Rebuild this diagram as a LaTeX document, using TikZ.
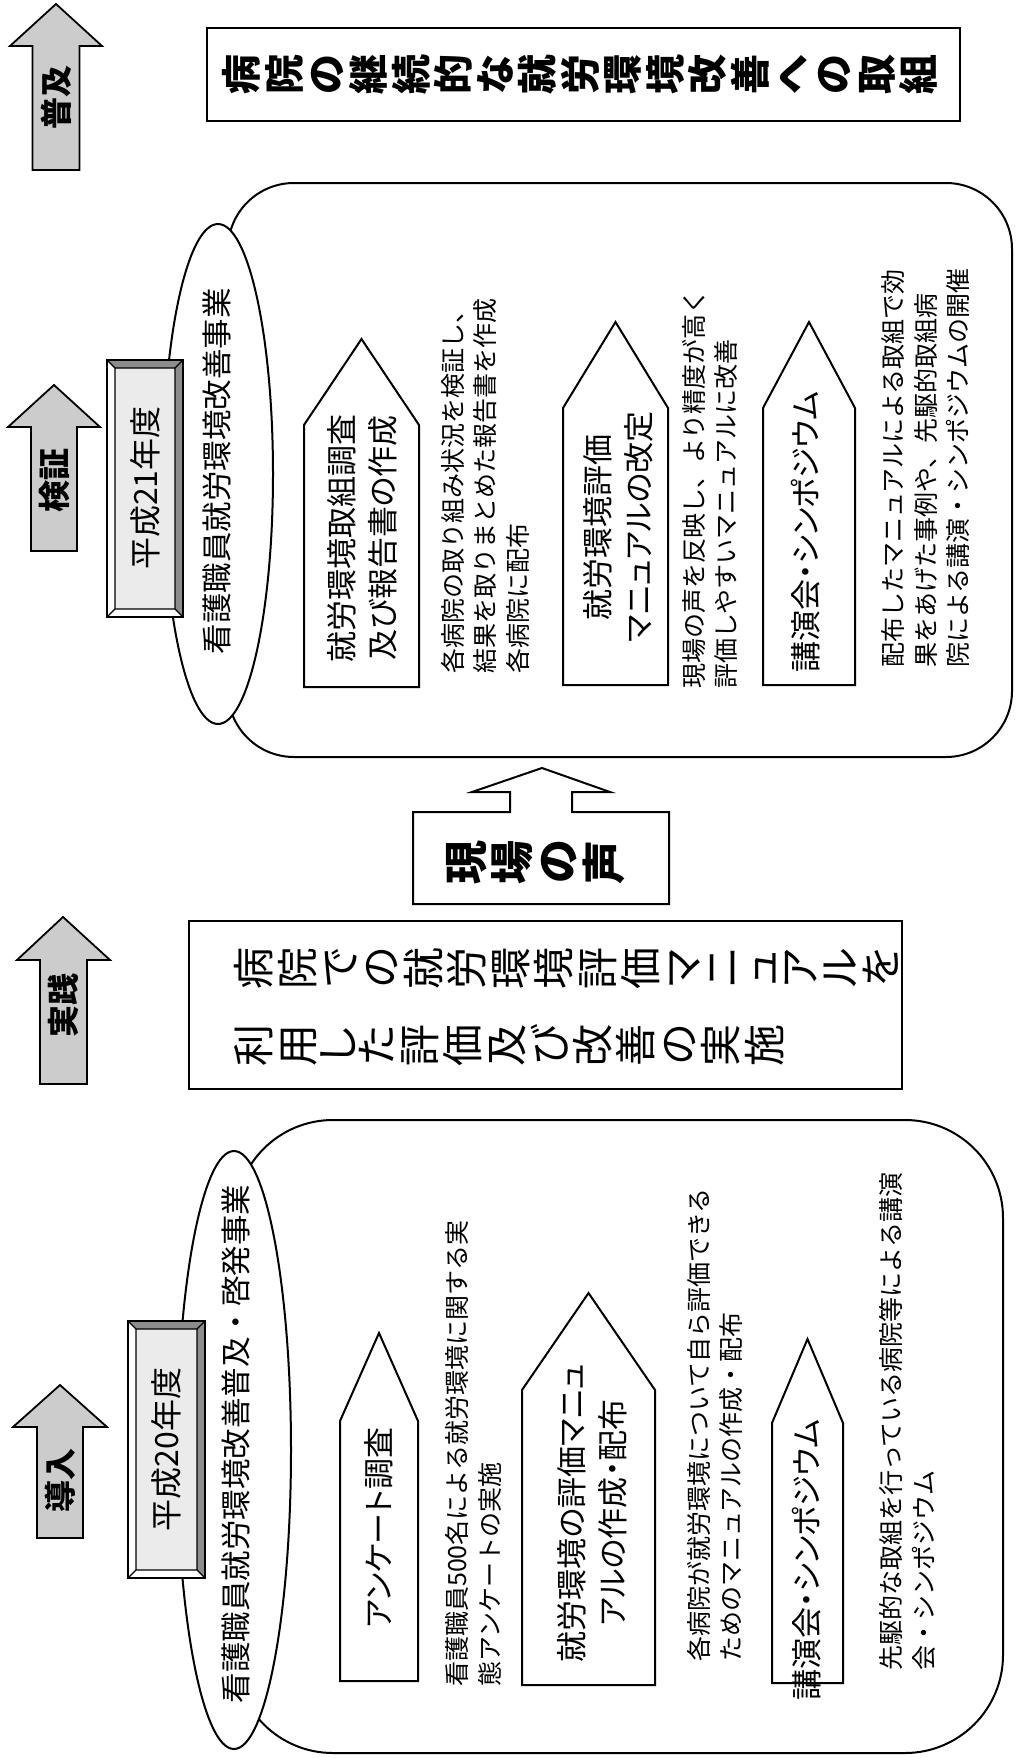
\documentclass[tikz,border=0pt]{standalone}
\usepackage{fontspec}
\setmainfont{Noto Sans CJK JP}
\newfontfamily\jpp[RawFeature={+palt}]{Noto Sans CJK JP}
\makeatletter
\def\VT@track{0pt}
\newcommand\VT[2][0pt]{\vbox{\offinterlineskip\def\VT@track{#1}\VT@loop#2\VT@end}}
\def\VT@end{\VT@end}
\def\VT@loop#1{\ifx#1\VT@end\else\VT@char{#1}\expandafter\VT@loop\fi}
\def\VT@char#1{\setbox0=\hbox{#1}\vbox to \dimexpr\wd0+\VT@track\relax{\vss\hbox to 1.1em{\hss\vrule height .88em depth .12em width 0pt\box0\hss}\vss}}
\makeatother
\newcommand\bevelbox[4]{%
  \pgfmathsetmacro\bxa{#1+8}\pgfmathsetmacro\bya{#2+8}%
  \pgfmathsetmacro\bxb{#3-8}\pgfmathsetmacro\byb{#4-8}%
  \fill[black!8] (\bxa,\bya) rectangle (\bxb,\byb);
  \fill[black!45] (#1,#2) -- (#3,#2) -- (\bxb,\bya) -- (\bxa,\bya) -- cycle;
  \fill[black!45] (#3,#2) -- (#3,#4) -- (\bxb,\byb) -- (\bxb,\bya) -- cycle;
  \fill[white] (#1,#2) -- (\bxa,\bya) -- (\bxa,\byb) -- (#1,#4) -- cycle;
  \fill[white] (#1,#4) -- (\bxa,\byb) -- (\bxb,\byb) -- (#3,#4) -- cycle;
  \draw[line width=1.2pt] (\bxa,\bya) rectangle (\bxb,\byb)
    (#1,#2) -- (\bxa,\bya) (#3,#2) -- (\bxb,\bya) (#3,#4) -- (\bxb,\byb) (#1,#4) -- (\bxa,\byb);
  \draw[line width=2pt] (#1,#2) rectangle (#3,#4);
}
\begin{document}
\begin{tikzpicture}[x=1pt,y=-1pt,
  outl/.style={draw=black, line width=2pt, fill=white, line join=miter},
  blockarrow/.style={draw=black, line width=1.8pt, fill=black!20, line join=miter},
  lbl/.style={rotate=90, inner sep=0pt, font=\bfseries\fontsize{32}{32}\selectfont},
  ptext/.style={rotate=90, inner sep=0pt, align=center, font=\jpp\fontsize{31}{41}\selectfont},
  desc/.style={rotate=90, inner sep=0pt, align=left, anchor=west, font=\fontsize{25}{32.5}\selectfont},
  ellt/.style={rotate=90, inner sep=0pt, font=\fontsize{30.5}{30.5}\selectfont},
  yeart/.style={rotate=90, inner sep=0pt, font=\fontsize{32}{32}\selectfont},
  vt/.style={rotate=90, inner sep=0pt, anchor=north}
]
\useasboundingbox (0,0) rectangle (1015,1758);
\fill[white] (0,0) rectangle (1015,1758);

% ---------- left column arrows ----------
\draw[blockarrow] (32.5,170) -- (32.5,46) -- (10,46) -- (56,4) -- (102,46) -- (79.5,46) -- (79.5,170) -- cycle;
\node[lbl] (fukyu) at (56,97) {普及};
\draw[blockarrow] (31,551) -- (31,427) -- (8,427) -- (54,385) -- (100,427) -- (77,427) -- (77,551) -- cycle;
\node[lbl] (kensho) at (54,480) {検証};
\draw[blockarrow] (40,1084) -- (40,960) -- (17,960) -- (63,917) -- (110,960) -- (87,960) -- (87,1084) -- cycle;
\node[lbl] (jissen) at (63,1005) {実践};
\draw[blockarrow] (37,1538) -- (37,1427) -- (13,1427) -- (60,1385) -- (107,1427) -- (83,1427) -- (83,1538) -- cycle;
\node[lbl] (donyu) at (60,1480) {導入};

% ---------- title ----------
\draw[outl] (207,28) rectangle (960,121);
\node[vt] (title) at (220,75) {\jpp\bfseries\fontsize{40}{40}\selectfont\VT[2.5pt]{病院の継続的な就労環境改善への取組}};

% ---------- upper group (H21) ----------
\draw[outl, rounded corners=66pt] (228,183) rectangle (1012,757);
\draw[outl] (218,474) ellipse [x radius=55pt, y radius=250pt];
\node[ellt] (ell1t) at (217,471) {看護職員就労環境改善事業};
\bevelbox{107}{360}{183}{617}
\node[yeart] (h21) at (145,488) {平成21年度};

\draw[outl] (304,687) -- (304,425) -- (361.5,339) -- (419,425) -- (419,687) -- cycle;
\node[ptext] (p1t) at (362,538) {就労環境取組調査\\及び報告書の作成};
\node[desc] (d1) at (485,674) {各病院の取り組み状況を検証し、\\結果を取りまとめた報告書を作成\\各病院に配布};

\draw[outl] (563,685) -- (563,408) -- (615.5,322) -- (668,408) -- (668,685) -- cycle;
\node[ptext] (p2t) at (618,527) {就労環境評価\\マニュアルの改定};
\node[desc] (d2) at (710,689) {現場の声を反映し、より精度が高く\\評価しやすいマニュアルに改善};

\draw[outl] (763,685) -- (763,408) -- (809,322) -- (855,408) -- (855,685) -- cycle;
\node[ptext] (p3t) at (806,532) {講演会・シンポジウム};
\node[desc] (d3) at (926,668) {配布したマニュアルによる取組で効\\果をあげた事例や、先駆的取組病\\院による講演・シンポジウムの開催};

% ---------- middle ----------
\draw[outl] (413,904) -- (413,812) -- (510,812) -- (510,792) -- (472,792) -- (542,768) -- (610,792) -- (572,792) -- (572,812) -- (669,812) -- (669,904) -- cycle;
\node[vt] (genba) at (443,862) {\jpp\bfseries\fontsize{44}{44}\selectfont\VT[2pt]{現場の声}};
\draw[outl] (189,921) rectangle (902,1089);
\node[vt] (mid1) at (232,968) {\jpp\fontsize{42}{42}\selectfont\VT[1.5pt]{病院での就労環境評価マニュアルを}};
\node[vt] (mid2) at (232,1045) {\jpp\fontsize{42}{42}\selectfont\VT[1.5pt]{利用した評価及び改善の実施}};

% ---------- lower group (H20) ----------
\draw[outl, rounded corners=98pt] (235,1120) rectangle (1003,1753);
\draw[outl] (234,1450) ellipse [x radius=57pt, y radius=299pt];
\node[ellt] (ell2t) at (236,1444) {看護職員就労環境改善普及・啓発事業};
\bevelbox{128}{1321}{205}{1578}
\node[yeart] (h20) at (166.5,1449.5) {平成20年度};

\draw[outl] (340,1681) -- (340,1421) -- (379,1333) -- (418,1421) -- (418,1681) -- cycle;
\node[ptext] (lp1t) at (379,1528) {アンケート調査};
\node[desc] (ld1) at (473.5,1687) {看護職員500名による就労環境に関する実\\態アンケートの実施};

\draw[outl] (522,1685) -- (522,1390) -- (588.5,1293) -- (655,1390) -- (655,1685) -- cycle;
\node[ptext] (lp2t) at (592.5,1513) {就労環境の評価マニュ\\アルの作成・配布};
\node[desc] (ld2) at (715,1662) {各病院が就労環境について自ら評価できる\\ためのマニュアルの作成・配布};

\draw[outl] (772,1683) -- (772,1423) -- (807.5,1339) -- (843,1423) -- (843,1683) -- cycle;
\node[ptext] (lp3t) at (807,1560) {講演会・シンポジウム};
\node[desc] (ld3) at (907.5,1671) {先駆的な取組を行っている病院等による講演\\会・シンポジウム};
\end{tikzpicture}
\end{document}
